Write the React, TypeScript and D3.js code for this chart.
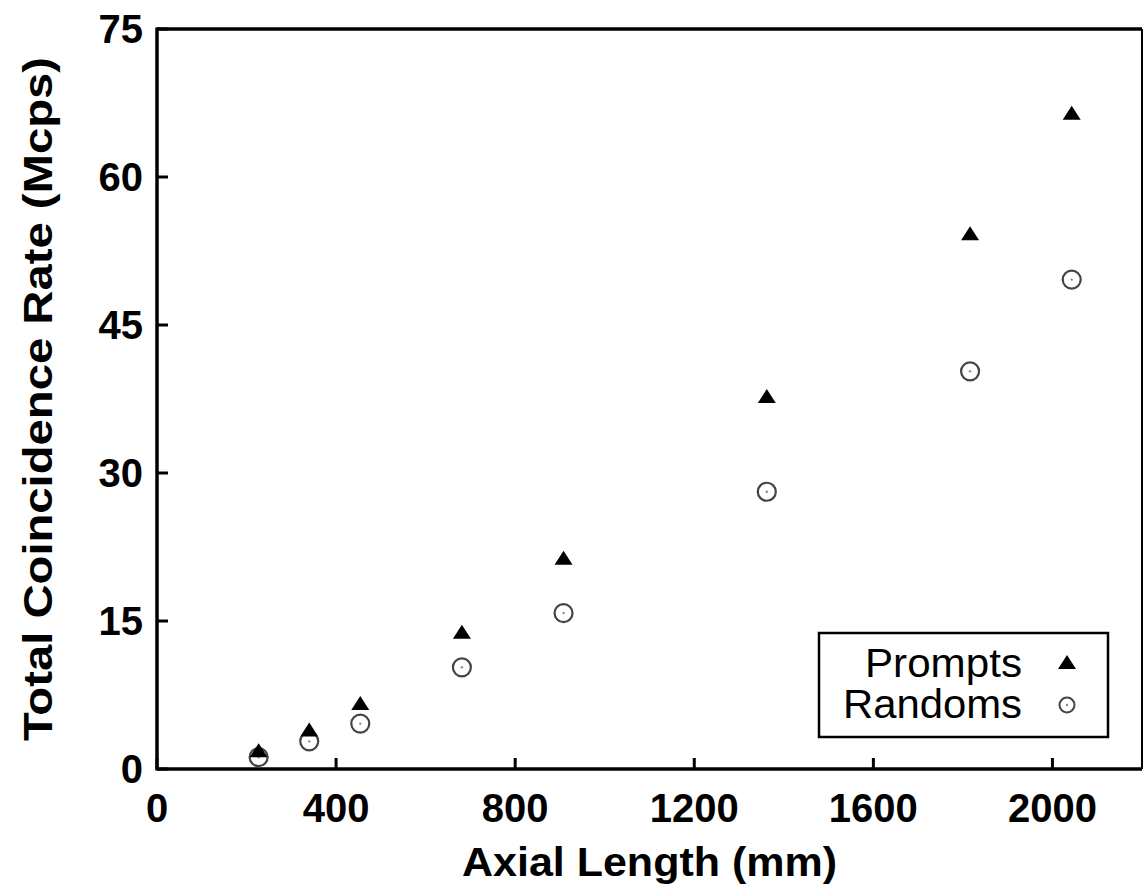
import React from 'react';
import * as d3 from 'd3';

// axial length (mm) for each scanner configuration
const axialLength = [227, 340, 454, 681, 908, 1362, 1816, 2043];
// total coincidence rates (Mcps)
const prompts = [1.9, 4.0, 6.7, 13.9, 21.4, 37.8, 54.3, 66.5];
const randoms = [1.2, 2.8, 4.6, 10.3, 15.8, 28.1, 40.3, 49.6];

const xTicks = [0, 400, 800, 1200, 1600, 2000];
const yTicks = [0, 15, 30, 45, 60, 75];
const legendLabels = ['Prompts', 'Randoms'];

const W = 1143;
const H = 894;
const margin = { top: 29, right: 1, bottom: 125, left: 157 };

const App = () => {
  const x = d3.scaleLinear()
    .domain([0, 2200])
    .range([margin.left, W - margin.right]);
  const y = d3.scaleLinear()
    .domain([0, 75])
    .range([H - margin.bottom, margin.top]);

  const font = 'Liberation Sans, Arial, Helvetica, sans-serif';
  const tri = 'M0,-7L9,7L-9,7Z';
  const x0 = x(0), x1 = x(2200), y0 = y(0), y1 = y(75);

  return (
    <svg width={W} height={H} style={{ position: 'absolute', left: 0, top: 0, background: '#fff' }}>
      {/* frame */}
      <line x1={x0} x2={x1} y1={y0} y2={y0} stroke="#000" strokeWidth={3.5} />
      <line x1={x0} x2={x0} y1={y0 + 1.5} y2={y1 - 1.5} stroke="#000" strokeWidth={3.5} />
      <line x1={x0} x2={x1} y1={y1} y2={y1} stroke="#000" strokeWidth={3.5} />
      <line x1={x1} x2={x1} y1={y1} y2={y0} stroke="#000" strokeWidth={2} />

      {/* x ticks */}
      {xTicks.map(t => (
        <g key={'x' + t}>
          <line x1={x(t)} x2={x(t)} y1={y0} y2={y0 - 11} stroke="#000" strokeWidth={3} />
          <text x={x(t)} y={y0 + 53} textAnchor="middle" fontFamily={font}
            fontWeight="bold" fontSize={40}>{t}</text>
        </g>
      ))}

      {/* y ticks */}
      {yTicks.map(t => (
        <g key={'y' + t}>
          <line x1={x0} x2={x0 + 11} y1={y(t)} y2={y(t)} stroke="#000" strokeWidth={3} />
          <text x={143} y={y(t)} dy="0.36em" textAnchor="end" fontFamily={font}
            fontWeight="bold" fontSize={40}>{t}</text>
        </g>
      ))}

      {/* axis titles */}
      <text x={(x0 + x1) / 2} y={876} textAnchor="middle" fontFamily={font}
        fontWeight="bold" fontSize={40} textLength={375} lengthAdjust="spacingAndGlyphs">
        Axial Length (mm)
      </text>
      <text transform={`translate(52,${(y0 + y1) / 2}) rotate(-90)`} textAnchor="middle"
        fontFamily={font} fontWeight="bold" fontSize={40} textLength={684}
        lengthAdjust="spacingAndGlyphs">
        Total Coincidence Rate (Mcps)
      </text>

      {/* randoms */}
      {randoms.map((v, i) => (
        <g key={'r' + i} transform={`translate(${x(axialLength[i])},${y(v)})`}>
          <circle r={9} fill="#fff" stroke="#444" strokeWidth={2.2} />
          <circle r={1.2} fill="#888" />
        </g>
      ))}

      {/* prompts */}
      {prompts.map((v, i) => (
        <path key={'p' + i} d={tri} fill="#000"
          transform={`translate(${x(axialLength[i])},${y(v)})`} />
      ))}

      {/* legend */}
      <rect x={819} y={633} width={289} height={104} fill="#fff" stroke="#000" strokeWidth={2.5} />
      <text x={1022} y={677} textAnchor="end" fontFamily={font} fontSize={40}
        textLength={157} lengthAdjust="spacingAndGlyphs">{legendLabels[0]}</text>
      <text x={1022} y={718} textAnchor="end" fontFamily={font} fontSize={40}
        textLength={179} lengthAdjust="spacingAndGlyphs">{legendLabels[1]}</text>
      <path d={tri} fill="#000" transform="translate(1067,662)" />
      <g transform="translate(1067,705)">
        <circle r={7.5} fill="#fff" stroke="#444" strokeWidth={2} />
        <circle r={1.2} fill="#888" />
      </g>
    </svg>
  );
};

export default App;
